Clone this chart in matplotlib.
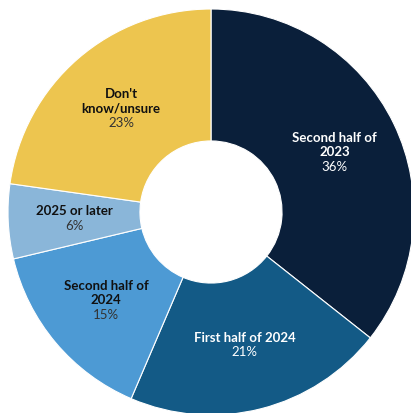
import numpy as np
import matplotlib
matplotlib.use('Agg')
import matplotlib.pyplot as plt

labels = ['Second half of\n2023', 'First half of 2024', 'Second half of\n2024',
          '2025 or later', "Don't\nknow/unsure"]
values = [36, 21, 15, 6, 23]
colors = ['#0a1f3a', '#135a86', '#4d9ad4', '#8ab6d9', '#edc54f']
text_colors = ['white', 'white', '#111111', '#111111', '#111111']
pct_colors = ['white', 'white', '#333333', '#333333', '#333333']

plt.rcParams['font.family'] = ['Lato', 'DejaVu Sans']

fig = plt.figure(figsize=(4.11, 4.13), dpi=100)
ax = fig.add_axes([0, 0, 1, 1])

wedges, _ = ax.pie(values, colors=colors, startangle=90, counterclock=False,
                   radius=1, wedgeprops=dict(width=0.65, edgecolor='white', linewidth=0.8))

r_lab = 0.675
for w, lab, v, tc, pc in zip(wedges, labels, values, text_colors, pct_colors):
  ang = np.deg2rad((w.theta1 + w.theta2) / 2)
  x, y = r_lab * np.cos(ang), r_lab * np.sin(ang)
  nlines = lab.count('\n') + 1
  step = 0.071
  top = y + step * nlines / 2
  for i, line in enumerate(lab.split('\n')):
    ax.text(x, top - step * i, line, ha='center', va='center', fontsize=9.5,
            fontweight='bold', color=tc)
  ax.text(x, top - step * nlines, f'{v}%', ha='center', va='center', fontsize=9.5,
          color=pc)

ax.set_xlim(-211 / 203, 200 / 203)
ax.set_ylim(-201 / 203, 212 / 203)
ax.set_aspect('auto')
ax.axis('off')

fig.savefig('out.png', dpi=100)
